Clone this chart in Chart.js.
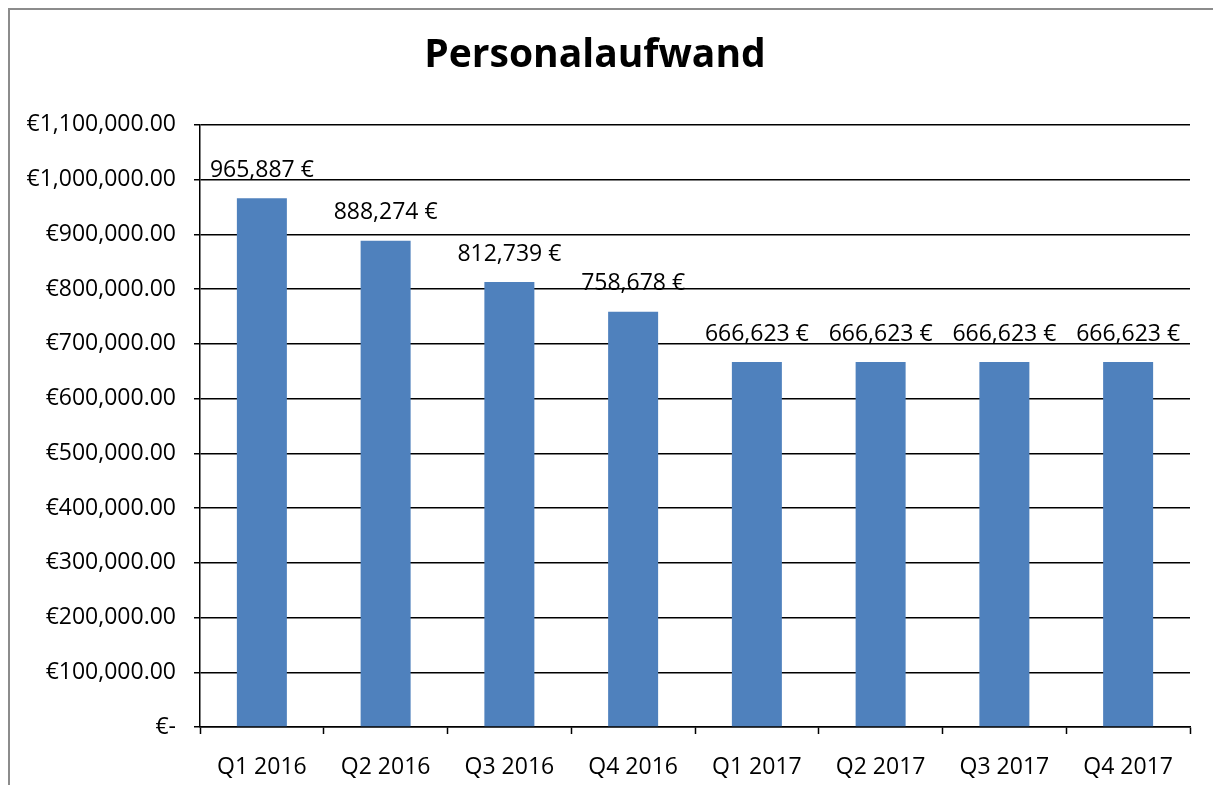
<!DOCTYPE html>
<html>
<head>
<meta charset="utf-8">
<script src="https://cdn.jsdelivr.net/npm/chart.js@4"></script>
<style>
  html, body { margin: 0; padding: 0; background: #fff; }
  #wrap { position: relative; width: 1213px; height: 785px; }
  #frame {
    position: absolute; left: 8px; top: 8px; right: 0; bottom: 0;
    border-top: 2px solid #8c8c8c; border-left: 2px solid #8c8c8c;
  }
  canvas { position: absolute; left: 0; top: 0; }
</style>
</head>
<body>
<div id="wrap">
  <div id="frame"></div>
  <canvas id="chart" width="1213" height="785"></canvas>
</div>
<script>
  // ── Data ──
  var QUARTERS = ['Q1 2016', 'Q2 2016', 'Q3 2016', 'Q4 2016', 'Q1 2017', 'Q2 2017', 'Q3 2017', 'Q4 2017'];
  var PERSONALAUFWAND = [965887, 888274, 812739, 758678, 666623, 666623, 666623, 666623];
  var Y_MAX = 1100000;
  var Y_STEP = 100000;

  var FONT = '"Open Sans", Lato, sans-serif';
  var BAR_COLOR = '#4f81bd';

  function fmtEuroAxis(v) {
    if (v === 0) return '\u20ac-';
    return '\u20ac' + v.toLocaleString('en-US', { minimumFractionDigits: 2, maximumFractionDigits: 2 });
  }

  function fmtEuroLabel(v) {
    return v.toLocaleString('en-US') + ' \u20ac';
  }

  // ── Value labels above bars (no datalabels plugin available) ──
  var valueLabels = {
    id: 'valueLabels',
    afterDatasetsDraw: function (chart) {
      var ctx = chart.ctx;
      var meta = chart.getDatasetMeta(0);
      var data = chart.data.datasets[0].data;
      ctx.save();
      ctx.font = '23px ' + FONT;
      ctx.fillStyle = '#000';
      ctx.textAlign = 'center';
      ctx.textBaseline = 'middle';
      for (var i = 0; i < meta.data.length; i++) {
        var bar = meta.data[i];
        ctx.fillText(fmtEuroLabel(data[i]), bar.x, bar.y - 28);
      }
      ctx.restore();
    }
  };

  new Chart(document.getElementById('chart').getContext('2d'), {
    type: 'bar',
    data: {
      labels: QUARTERS,
      datasets: [{
        label: 'Personalaufwand',
        data: PERSONALAUFWAND,
        backgroundColor: BAR_COLOR,
        borderWidth: 0,
        categoryPercentage: 1,
        barPercentage: 0.404
      }]
    },
    plugins: [valueLabels],
    options: {
      responsive: false,
      animation: false,
      devicePixelRatio: 1,
      layout: { padding: { left: 0, right: 23, top: 32, bottom: 4 } },
      plugins: {
        legend: { display: false },
        tooltip: { enabled: false },
        title: {
          display: true,
          text: 'Personalaufwand',
          color: '#000',
          font: { family: FONT, size: 39, weight: 'bold' },
          padding: { top: 0, bottom: 46 }
        }
      },
      scales: {
        x: {
          offset: true,
          afterFit: function (scale) { scale.height = 54; },
          grid: {
            offset: true,
            drawOnChartArea: false,
            drawTicks: true,
            tickLength: 7,
            tickColor: '#000',
            tickWidth: 1.5
          },
          border: { display: true, color: '#000', width: 1.5 },
          ticks: {
            color: '#000',
            font: { family: FONT, size: 23 },
            padding: 20,
            maxRotation: 0
          }
        },
        y: {
          min: 0,
          max: Y_MAX,
          afterFit: function (scale) { scale.width = 200; },
          grid: {
            color: '#000',
            lineWidth: 1.5,
            drawTicks: true,
            tickLength: 6,
            tickColor: '#000'
          },
          border: { display: true, color: '#000', width: 1.5 },
          ticks: {
            stepSize: Y_STEP,
            color: '#000',
            font: { family: FONT, size: 23 },
            padding: 18,
            callback: function (v) { return fmtEuroAxis(v); }
          }
        }
      }
    }
  });
</script>
</body>
</html>
